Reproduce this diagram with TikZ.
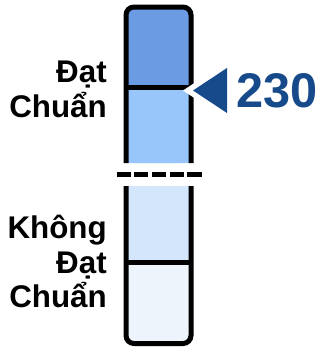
\documentclass[tikz,border=0pt]{standalone}
\usepackage{fontspec}
\setmainfont{Liberation Sans}
\definecolor{tierA}{RGB}{106,155,227}
\definecolor{tierB}{RGB}{153,198,250}
\definecolor{tierC}{RGB}{212,230,251}
\definecolor{tierD}{RGB}{238,244,252}
\definecolor{markblue}{RGB}{23,74,139}
\tikzset{
  barline/.style={line width=3.75pt, rounded corners=6pt},
  sidelbl/.style={anchor=base east, inner sep=0pt, font=\fontsize{23.5}{28}\selectfont\bfseries},
}
\begin{document}
\begin{tikzpicture}[x=0.75pt,y=0.75pt,yscale=-1,xscale=1]
\useasboundingbox (0,0) rectangle (322,347);

%Shape: Upper bar fills
\fill[tierA, rounded corners=6pt] (126,163) -- (126,7) -- (191,7) -- (191,163) -- cycle;
\fill[tierB] (126,87.5) rectangle (191,163);
%Shape: Lower bar fills
\fill[tierD, rounded corners=6pt] (126,186) -- (126,343.5) -- (191,343.5) -- (191,186) -- cycle;
\fill[tierC] (126,186) rectangle (191,262.5);

%Shape: Upper bar outline
\draw[barline] (126,163) -- (126,7) -- (191,7) -- (191,163);
\draw[line width=3.75pt] (126,87.5) -- (191,87.5);
%Shape: Lower bar outline
\draw[barline] (126,186) -- (126,343.5) -- (191,343.5) -- (191,186);
\draw[line width=3.75pt] (126,262.5) -- (191,262.5);

%Straight Lines: break mark
\draw[line width=3.75pt, dash pattern=on 10.6pt off 2.7pt] (116.5,174.5) -- (201.5,174.5);

%Shape: Marker
\fill[white] (183,90.5) -- (205,76) -- (205,105) -- cycle;
\fill[markblue] (193,90.5) -- (227,68) -- (227,113) -- cycle;

% Text Node
\node[anchor=base west, inner sep=0pt, text=markblue, font=\fontsize{36.5}{40}\selectfont\bfseries] (score) at (236,107.5) {230};
% Text Node
\node[sidelbl] (passA) at (107,82) {Đạt};
\node[sidelbl] (passB) at (107,117) {Chuẩn};
% Text Node
\node[sidelbl] (failA) at (107,238) {Không};
\node[sidelbl] (failB) at (107,273) {Đạt};
\node[sidelbl] (failC) at (107,307) {Chuẩn};

\end{tikzpicture}
\end{document}
